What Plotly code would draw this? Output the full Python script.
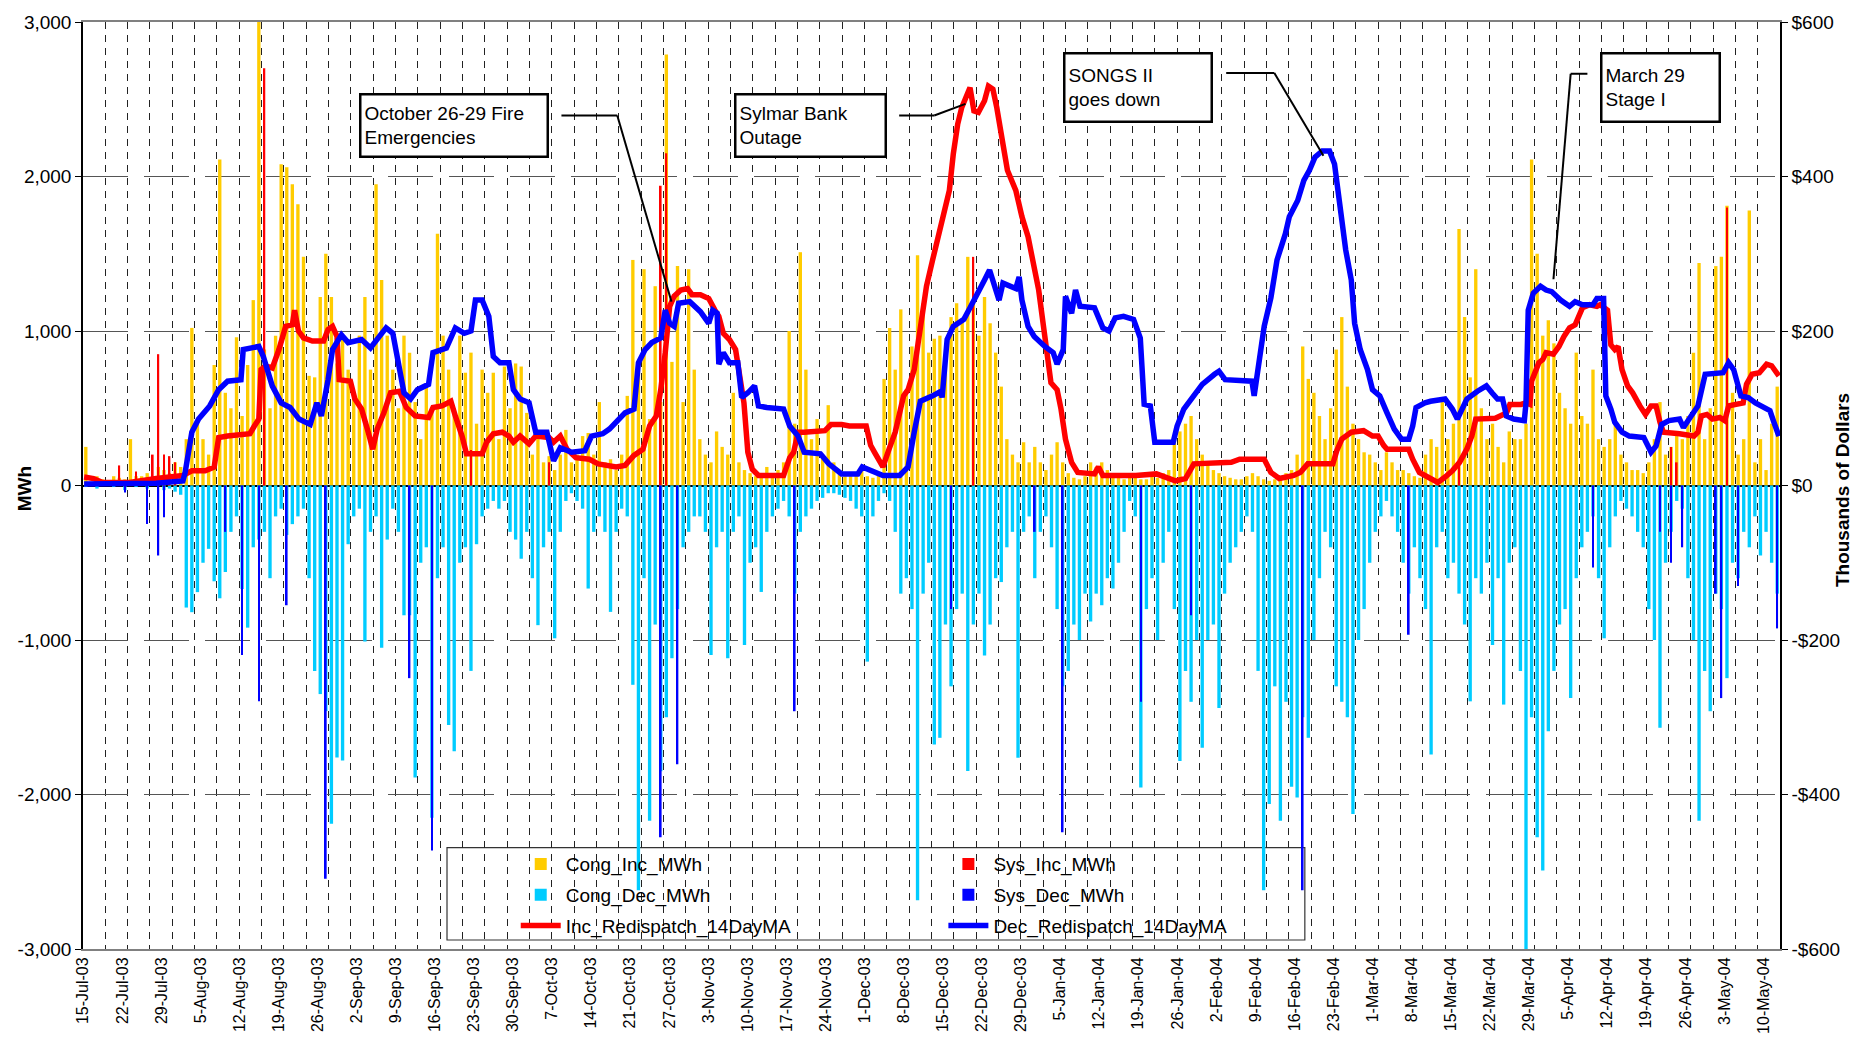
import pandas as pd
import plotly.graph_objects as go

START = pd.Timestamp("2003-07-15")
END = pd.Timestamp("2004-05-14")
DAY_MS = 86400000

NARROW = "Liberation Sans Narrow, Arial Narrow, Liberation Sans, Arial, sans-serif"
ARIAL = "Liberation Sans, Arial, sans-serif"

# weekly category labels as printed on the original axis
week_labels = ["15-Jul-03", "22-Jul-03", "29-Jul-03", "5-Aug-03", "12-Aug-03", "19-Aug-03", "26-Aug-03",
               "2-Sep-03", "9-Sep-03", "16-Sep-03", "23-Sep-03", "30-Sep-03", "7-Oct-03", "14-Oct-03",
               "21-Oct-03", "27-Oct-03", "3-Nov-03", "10-Nov-03", "17-Nov-03", "24-Nov-03", "1-Dec-03",
               "8-Dec-03", "15-Dec-03", "22-Dec-03", "29-Dec-03", "5-Jan-04", "12-Jan-04", "19-Jan-04",
               "26-Jan-04", "2-Feb-04", "9-Feb-04", "16-Feb-04", "23-Feb-04", "1-Mar-04", "8-Mar-04",
               "15-Mar-04", "22-Mar-04", "29-Mar-04", "5-Apr-04", "12-Apr-04", "19-Apr-04", "26-Apr-04",
               "3-May-04", "10-May-04"]

# left axis ticks (MWh) and right axis ticks (thousands of $)
mwh_ticks = [-3000, -2000, -1000, 0, 1000, 2000, 3000]
mwh_labels = ["-3,000", "-2,000", "-1,000", "0", "1,000", "2,000", "3,000"]
usd_ticks = [-600, -400, -200, 0, 200, 400, 600]
usd_labels = ["-$600", "-$400", "-$200", "$0", "$200", "$400", "$600"]

# daily congestion increments (MWh), one value per day from 15-Jul-03
cong_inc = [
    250, 20, 60, 40, 30, 60, 50, 40, 300, 60,
    60, 80, 60, 120, 100, 80, 150, 120, 300, 1020,
    400, 300, 200, 780, 2110, 600, 500, 960, 450, 780,
    1200, 3000, 880, 500, 970, 2080, 2060, 1950, 1820, 1480,
    710, 700, 1220, 1500, 1220, 790, 970, 750, 600, 970,
    1220, 750, 1950, 1330, 970, 750, 500, 970, 860, 540,
    300, 640, 500, 1630, 970, 750, 500, 970, 730, 860,
    400, 750, 600, 730, 300, 770, 500, 790, 770, 470,
    200, 320, 150, 190, 100, 200, 360, 150, 200, 320,
    340, 200, 540, 150, 170, 100, 200, 580, 1460, 750,
    1400, 430, 1290, 540, 2790, 800, 1420, 540, 1400, 750,
    300, 200, 150, 350, 250, 200, 600, 150, 100, 80,
    60, 80, 120, 60, 100, 150, 1000, 400, 1510, 750,
    300, 430, 200, 520, 150, 100, 60, 60, 80, 100,
    60, 50, 80, 690, 1020, 750, 1140, 620, 900, 1490,
    1180, 860, 950, 970, 840, 1090, 1180, 1070, 1480, 1180,
    970, 1220, 1050, 860, 640, 300, 200, 150, 280, 150,
    250, 150, 100, 200, 280, 150, 80, 50, 40, 60,
    150, 120, 150, 100, 60, 50, 40, 60, 80, 40,
    40, 60, 50, 80, 100, 300, 350, 400, 450, 300,
    200, 150, 100, 80, 60, 50, 40, 40, 60, 80,
    60, 40, 30, 40, 60, 80, 100, 200, 900, 690,
    600, 450, 300, 500, 880, 1090, 640, 400, 300, 215,
    200, 150, 100, 215, 150, 100, 100, 80, 60, 50,
    200, 300, 250, 540, 300, 400, 1660, 1090, 700, 1400,
    500, 300, 400, 250, 150, 350, 300, 300, 400, 2110,
    1500, 970, 1070, 920, 600, 500, 400, 860, 450, 400,
    750, 300, 250, 300, 400, 200, 150, 100, 100, 80,
    150, 300, 540, 200, 250, 320, 300, 450, 860, 1440,
    300, 500, 1420, 1480, 1810, 600, 200, 300, 1780, 150,
    300, 100, 400, 640,
]

# daily congestion decrements (MWh)
cong_dec = [
    -10, 0, -20, 0, 0, -10, 0, -30, 0, -10,
    0, -20, 0, 0, -30, -20, -40, -60, -790, -820,
    -690, -500, -410, -620, -730, -560, -300, -200, -670, -920,
    -400, -350, -300, -600, -200, -150, -320, -250, -200, -150,
    -600, -1200, -1350, -1460, -2190, -1760, -1780, -380, -200, -150,
    -1010, -300, -200, -1050, -350, -150, -300, -840, -840, -1890,
    -500, -400, -2150, -600, -400, -1550, -1720, -500, -400, -1200,
    -380, -200, -150, -100, -150, -100, -300, -350, -474, -300,
    -600, -904, -400, -300, -989, -300, -100, -50, -100, -150,
    -667, -300, -200, -300, -818, -300, -150, -200, -1290, -2620,
    -600, -2170, -900, -1850, -1500, -1118, -800, -400, -300, -200,
    -200, -300, -1097, -400, -300, -1118, -300, -200, -1033, -500,
    -400, -689, -300, -200, -150, -100, -200, -700, -300, -200,
    -150, -100, -80, -50, -50, -60, -80, -100, -150, -200,
    -1140, -200, -100, -50, -100, -300, -700, -600, -800, -2685,
    -700, -500, -1676, -1633, -900, -1300, -800, -700, -1848, -900,
    -700, -1100, -900, -600, -625, -400, -300, -1762, -300, -200,
    -600, -300, -200, -400, -800, -1300, -1200, -900, -1000, -700,
    -880, -700, -775, -600, -667, -500, -300, -100, -200, -1955,
    -800, -600, -1000, -500, -300, -800, -1783, -1200, -1400, -1000,
    -1697, -1000, -900, -1440, -700, -500, -400, -300, -200, -300,
    -1200, -2620, -2062, -1300, -2170, -1400, -1950, -2019, -1500, -1633,
    -1000, -600, -300, -400, -1300, -1400, -1500, -2127, -1000, -800,
    -500, -300, -200, -100, -200, -300, -500, -700, -400, -600,
    -800, -1741, -400, -300, -600, -500, -700, -900, -1397, -600,
    -700, -500, -1033, -600, -1418, -500, -400, -1200, -3000, -1500,
    -2277, -2492, -1590, -1200, -900, -800, -1376, -600, -400, -300,
    -200, -600, -989, -400, -200, -100, -150, -200, -300, -400,
    -800, -1000, -1568, -500, -300, -100, -150, -600, -1000, -2170,
    -1200, -1461, -700, -800, -1247, -500, -600, -300, -400, -200,
    -453, -300, -500, -700,
]

# system redispatch, only on the days where it shows up
sys_inc_day = [6, 9, 12, 13, 14, 15, 16, 32, 69, 83, 103, 104, 159, 246, 284, 285, 294]
sys_inc_val = [130, 90, 200, 850, 200, 190, 150, 2700, 230, 150, 1940, 2150, 1480, 150, 250, 150, 1800]

sys_dec_day = [7, 11, 13, 14, 25, 28, 31, 36, 43, 58, 62, 103, 106, 127, 155, 170, 175, 189, 198,
               218, 237, 270, 282, 284, 286, 292, 293, 296, 303]
sys_dec_val = [-45, -249, -453, -206, -300, -1097, -1397, -775, -2545, -1247, -2363, -2277, -1805, -1461,
               -800, -300, -2245, -1400, -840, -2620, -966, -530, -300, -500, -400, -700, -1376, -650, -925]

# 14 day moving averages, thousands of $ (day offset from 15-Jul-03, value)
inc_ma_day = [0.2, 1.9, 3.5, 8.3, 13.1, 16.3, 17.9, 19.5, 21.9, 23.5,
              24.3, 25.9, 29.9, 30.7, 31.5, 31.9, 32.7, 33.9, 35.1, 36.3,
              37.5, 37.9, 38.6, 39.5, 41.1, 43.1, 43.9, 44.7, 45.5, 45.9,
              47.9, 48.7, 49.9, 51.1, 51.9, 52.7, 53.9, 55.1, 56.7, 57.9,
              59.5, 61.9, 62.7, 64.3, 65.9, 66.7, 67.9, 68.7, 71.5, 72.3,
              73.5, 75.1, 76.3, 77.1, 78.3, 79.9, 81.1, 83.5, 84.3, 85.5,
              86.7, 88.3, 90.7, 92.3, 95.5, 97.1, 98.7, 100.3, 101.5, 102.7,
              103.5, 104.3, 105.1, 105.9, 107.1, 108.3, 109.1, 110.6,
              112.1, 113.2, 113.9, 114.7, 115.8, 116.9, 117.7, 118.4, 119.1, 119.9,
              121.0, 125.5, 126.6, 127.3, 128.1, 129.2, 132.9, 134.0, 135.9, 137.3,
              140.3, 141.1, 141.8, 143.3, 144.4, 145.5, 147.0, 147.8, 148.9, 150.0,
              151.1, 152.2, 153.3, 154.4, 155.2, 155.9, 156.7, 157.4, 158.9, 159.6,
              160.4, 161.5, 162.2, 163.0, 163.7, 164.8, 165.6, 167.1, 168.2, 169.3,
              170.0, 171.2, 172.3, 173.4, 174.5, 175.2, 176.0, 177.1, 178.2, 181.2,
              181.9, 182.7, 188.6, 192.3, 195.7, 197.5, 199.0, 205.7, 207.2, 211.6,
              212.8, 214.3, 216.9, 218.1, 219.4, 223.9, 224.6, 225.5, 227.2, 229.4,
              231.0, 232.0, 233.0, 233.6, 237.5, 238.2, 239.4, 241.4, 242.7, 244.0,
              245.3, 246.6, 247.9, 248.8, 249.5, 253.0, 254.0, 255.0, 255.6, 257.6,
              258.5, 259.2, 259.5, 260.2, 260.8, 261.5, 262.1, 263.4, 264.4, 265.3,
              266.3, 267.3, 267.9, 268.6, 269.9, 271.2, 271.8, 273.1, 273.7, 274.4,
              275.0, 275.7, 276.7, 277.6, 278.9, 279.9, 280.9, 281.8, 282.5, 283.1,
              286.0, 288.6, 289.3, 289.9, 290.9, 291.9, 293.2, 294.1, 294.8, 296.4,
              297.4, 298.0, 299.0, 300.3, 301.6, 302.5, 303.8]
inc_ma_val = [11, 9, 4, 4, 9, 11, 13, 19, 19, 24,
              62, 64, 67, 77, 86, 150, 155, 152, 176, 206,
              208, 227, 200, 191, 187, 187, 202, 206, 193, 137,
              135, 112, 99, 69, 47, 73, 94, 120, 122, 101,
              90, 88, 101, 103, 109, 90, 64, 41, 41, 56,
              67, 69, 64, 56, 64, 54, 64, 62, 56, 64,
              47, 36, 34, 28, 24, 26, 39, 47, 77, 90,
              124, 172, 232, 245, 253, 255, 247, 247,
              242, 227, 219, 197, 189, 176, 142, 107, 43, 21,
              13, 13, 36, 43, 69, 69, 71, 79, 79, 77,
              77, 52, 43, 24, 47, 69, 116, 124, 150, 202,
              258, 292, 326, 356, 382, 429, 468, 489, 515, 485,
              483, 498, 517, 513, 489, 442, 408, 382, 348, 322,
              296, 253, 193, 133, 124, 99, 60, 30, 17, 15,
              24, 13, 13, 15, 6, 9, 28, 30, 34, 34,
              17, 9, 13, 17, 28, 28, 45, 60, 69, 71,
              64, 64, 52, 47, 47, 34, 17, 9, 4, 11,
              19, 30, 47, 64, 86, 87, 90, 94, 105, 105,
              107, 105, 135, 150, 159, 163, 172, 170, 180, 193,
              204, 208, 219, 230, 234, 232, 234, 227, 182, 176,
              180, 150, 129, 120, 103, 92, 103, 103, 82, 69,
              67, 64, 69, 90, 92, 86, 88, 84, 103, 105,
              107, 131, 144, 146, 157, 155, 142]

dec_ma_day = [0.2, 13.1, 17.9, 18.3, 19.5, 20.7, 22.7, 24.3, 25.9, 28.3,
              28.7, 31.5, 32.3, 33.9, 35.5, 37.1, 38.7, 40.7, 41.9, 42.7,
              43.9, 44.7, 46.3, 47.5, 49.9, 51.5, 53.1, 54.3, 55.5, 56.7,
              57.5, 58.7, 59.9, 61.9, 62.7, 65.1, 66.7, 68.3, 69.5, 70.3,
              71.5, 72.7, 73.5, 74.7, 76.3, 77.1, 78.3, 79.9, 81.1, 83.1,
              84.3, 85.5, 87.5, 89.9, 91.1, 93.1, 94.3, 97.1, 98.7, 99.5,
              100.7, 101.9, 103.5, 104.3, 105.1, 105.9, 106.7, 108.7, 110.6,
              112.1, 112.8, 113.6, 113.9, 114.7, 115.8, 117.3, 118.0, 119.1, 120.3,
              121.0, 122.5, 125.5, 126.6, 128.1, 129.2, 132.1, 133.6, 135.9, 138.8,
              139.6, 141.8, 143.3, 146.3, 147.8, 148.9, 150.0, 152.2, 153.7, 153.9,
              154.8, 155.9, 157.8, 158.9, 160.4, 161.5, 162.4, 163.4, 164.1, 164.8,
              167.1, 167.7, 168.2, 169.3, 170.4, 172.3, 173.8, 174.5, 175.6, 176.0,
              177.1, 177.8, 178.6, 181.2, 182.7, 183.8, 184.9, 186.4, 188.2, 189.4,
              190.1, 191.2, 192.0, 195.3, 196.0, 197.2, 199.0, 200.5, 202.7, 203.5,
              204.6, 207.2, 209.4, 209.8, 210.5, 211.6, 212.8, 213.9, 215.4, 216.1,
              217.6, 218.7, 219.7, 220.7, 222.0, 223.3, 224.2, 225.2, 226.2, 227.2,
              227.8, 228.8, 230.1, 231.0, 232.3, 233.6, 234.9, 236.2, 237.5, 238.2,
              238.8, 240.4, 241.4, 244.0, 245.3, 246.2, 247.9, 249.8, 251.4, 252.4,
              253.4, 254.3, 255.0, 256.3, 258.2, 258.5, 258.9, 259.8, 261.1, 262.1,
              263.1, 264.7, 266.3, 267.3, 268.6, 270.5, 271.2, 272.4, 272.8, 273.7,
              274.4, 275.7, 277.0, 279.6, 280.9, 281.8, 282.8, 284.1, 286.0, 286.7,
              288.0, 289.3, 290.6, 293.8, 294.8, 295.7, 297.0, 298.3, 299.6, 300.9,
              302.2, 302.9, 303.8]
dec_ma_val = [2, 3, 6, 17, 69, 86, 103, 124, 135, 137,
              176, 180, 167, 129, 107, 101, 86, 79, 107, 90,
              137, 176, 195, 185, 189, 178, 193, 204, 197, 150,
              120, 112, 124, 131, 172, 178, 204, 197, 200, 240,
              240, 219, 167, 159, 159, 124, 112, 107, 69, 69,
              32, 49, 43, 45, 64, 67, 73, 94, 99, 159,
              176, 185, 191, 227, 210, 206, 236, 238, 225,
              210, 227, 223, 157, 172, 159, 159, 114, 120, 129,
              103, 101, 99, 77, 64, 43, 41, 28, 15, 15,
              24, 17, 13, 13, 24, 69, 109, 116, 122, 114,
              189, 206, 215, 230, 253, 266, 279, 255, 240, 262,
              255, 270, 240, 206, 193, 180, 172, 157, 176, 245,
              223, 253, 232, 230, 204, 200, 217, 219, 215, 191,
              105, 103, 56, 56, 77, 99, 116, 131, 144, 148,
              137, 135, 135, 116, 155, 206, 243, 292, 326, 348,
              369, 395, 408, 425, 433, 433, 416, 356, 305, 266,
              210, 176, 150, 124, 116, 94, 73, 60, 60, 77,
              101, 107, 109, 112, 99, 86, 112, 122, 129, 120,
              112, 112, 90, 86, 84, 107, 227, 249, 258, 253,
              251, 240, 232, 238, 234, 234, 242, 242, 116, 99,
              82, 69, 64, 62, 43, 51, 79, 84, 86, 75,
              90, 103, 144, 146, 159, 150, 116, 114, 107, 101,
              97, 82, 64]


def to_dates(days, shift=0.0):
    return START + pd.to_timedelta([d + shift for d in days], unit="D")


bar_x = to_dates(range(len(cong_inc)), 0.5)
bar_w = 0.6 * DAY_MS
sys_w = 0.3 * DAY_MS

fig = go.Figure()
fig.add_trace(go.Bar(x=bar_x, y=cong_inc, name="Cong_Inc_MWh", width=bar_w,
                     marker=dict(color="#FFCC00", line_width=0), legend="legend", legendgroup="g1"))
fig.add_trace(go.Bar(x=bar_x, y=cong_dec, name="Cong_Dec_MWh", width=bar_w,
                     marker=dict(color="#00CCFF", line_width=0), legend="legend", legendgroup="g2"))
fig.add_trace(go.Bar(x=to_dates(sys_inc_day, 0.5), y=sys_inc_val, name="Sys_Inc_MWh", width=sys_w,
                     marker=dict(color="#FF0000", line_width=0), legend="legend2", legendgroup="g4"))
fig.add_trace(go.Bar(x=to_dates(sys_dec_day, 0.5), y=sys_dec_val, name="Sys_Dec_MWh", width=sys_w,
                     marker=dict(color="#0000FF", line_width=0), legend="legend2", legendgroup="g5"))
fig.add_trace(go.Scatter(x=to_dates(inc_ma_day), y=inc_ma_val, name="Inc_Redispatch_14DayMA", yaxis="y2",
                         mode="lines", line=dict(color="#FF0000", width=5.5), legend="legend", legendgroup="g3"))
fig.add_trace(go.Scatter(x=to_dates(dec_ma_day), y=dec_ma_val, name="Dec_Redispatch_14DayMA", yaxis="y2",
                         mode="lines", line=dict(color="#0000FF", width=5.5), legend="legend2", legendgroup="g6"))

# callout boxes
callouts = [
    ("October 26-29 Fire<br>Emergencies", 0.2186, 0.8879, 179, 54),
    ("Sylmar Bank<br>Outage", 0.4287, 0.8879, 142, 54),
    ("SONGS II<br>goes down", 0.6217, 0.9297, 139, 60),
    ("March 29<br>Stage I", 0.9296, 0.9297, 110, 60),
]
annotations = []
for text, ax, ay, w, h in callouts:
    annotations.append(dict(text=text, x=ax, y=ay, xref="paper", yref="paper", showarrow=False,
                            xanchor="center", yanchor="middle", width=w, height=h, align="left",
                            bgcolor="white", bordercolor="black", borderwidth=2.5, borderpad=3,
                            font=dict(family=NARROW, size=19, color="black")))

# axis titles
annotations.append(dict(text="<b>MWh</b>", x=-0.0348, y=0.497, xref="paper", yref="paper", showarrow=False,
                        xanchor="center", yanchor="middle", textangle=-90,
                        font=dict(family=ARIAL, size=19, color="black")))
annotations.append(dict(text="<b>Thousands of Dollars</b>", x=1.0365, y=0.495, xref="paper", yref="paper",
                        xanchor="center", yanchor="middle", showarrow=False, textangle=-90,
                        font=dict(family=ARIAL, size=19, color="black")))

# leader lines from the callouts to the curves
leaders = [
    [("2003-10-08 17:00", 479), ("2003-10-18 17:00", 479), ("2003-10-28 10:00", 238)],
    [("2003-12-08 05:00", 479), ("2003-12-14 12:00", 479), ("2003-12-20 02:00", 494)],
    [("2004-02-04 19:00", 534), ("2004-02-13 10:00", 534), ("2004-02-22 05:00", 427)],
    [("2004-04-09 12:00", 533), ("2004-04-06 12:00", 533), ("2004-04-03 10:00", 267)],
]
shapes = [dict(type="rect", xref="paper", yref="paper", x0=0.2145, x1=0.7200, y0=0.0097, y1=0.1094,
               line=dict(color="#333333", width=1.2), fillcolor="white", layer="between")]
for pts in leaders:
    for (xa, ya), (xb, yb) in zip(pts[:-1], pts[1:]):
        shapes.append(dict(type="line", xref="x", yref="y2", x0=xa, y0=ya, x1=xb, y1=yb,
                           line=dict(color="black", width=2)))

legend_style = dict(xanchor="left", yanchor="top", bgcolor="rgba(0,0,0,0)",
                    font=dict(family=NARROW, size=19, color="black"), traceorder="grouped",
                    tracegroupgap=3, itemwidth=40)

fig.update_layout(
    width=1866, height=1052,
    margin=dict(l=83, r=86, t=17, b=103),
    paper_bgcolor="white", plot_bgcolor="white",
    barmode="overlay",
    showlegend=True,
    legend=dict(x=0.255, y=0.112, **legend_style),
    legend2=dict(x=0.507, y=0.112, **legend_style),
    annotations=annotations,
    shapes=shapes,
    xaxis=dict(
        type="date", range=[START, END],
        tickmode="array",
        tickvals=pd.date_range(START, periods=len(week_labels), freq="7D") + pd.Timedelta(hours=1),
        ticktext=week_labels, tickangle=-90,
        tickfont=dict(family=ARIAL, size=16, color="black"),
        showgrid=False, ticks="",
        showline=True, linecolor="#808080", linewidth=2, mirror=True,
        minor=dict(dtick=4 * DAY_MS, tick0=START, showgrid=True, gridcolor="#222222",
                   griddash="7px,6px", gridwidth=1, ticks=""),
    ),
    yaxis=dict(
        range=[-3000, 3000], tickmode="array", tickvals=mwh_ticks, ticktext=mwh_labels,
        tickfont=dict(family=NARROW, size=19, color="black"),
        showline=True, linecolor="black", linewidth=1.5,
        ticks="outside", ticklen=6, tickcolor="black",
        showgrid=True, gridcolor="#555555", griddash="45px,16px", gridwidth=1.3,
        zeroline=True, zerolinecolor="black", zerolinewidth=1.5,
    ),
    yaxis2=dict(
        range=[-600, 600], overlaying="y", side="right", tickmode="array",
        tickvals=usd_ticks, ticktext=usd_labels,
        tickfont=dict(family=NARROW, size=19, color="black"),
        showline=True, linecolor="black", linewidth=1.5,
        ticks="outside", ticklen=6, tickcolor="black",
        showgrid=False, zeroline=False,
    ),
)

fig.write_html("out.html", config={"displayModeBar": False},
               post_script="document.body.style.margin='0';document.body.style.overflow='hidden';")
